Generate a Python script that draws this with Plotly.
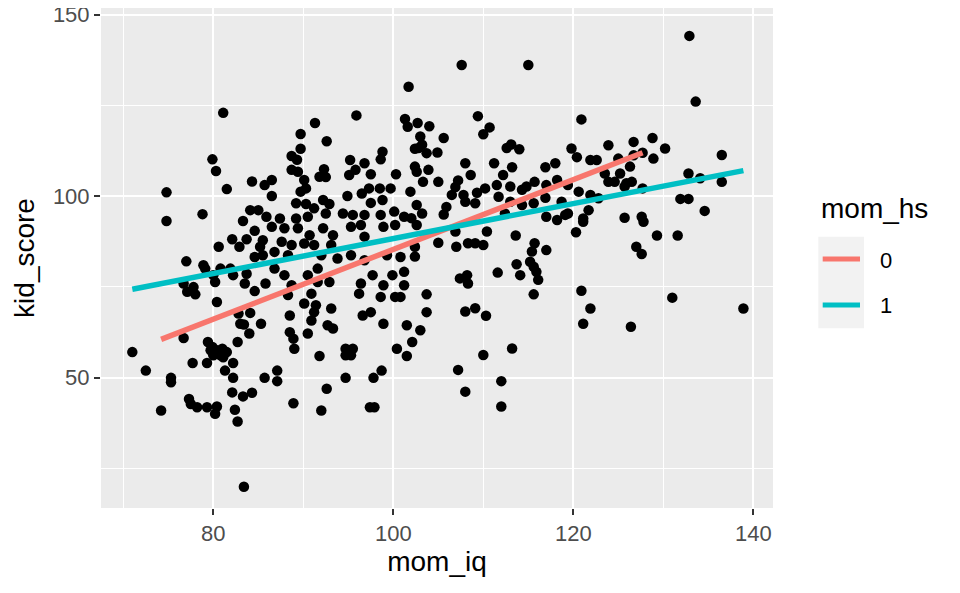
import plotly.graph_objects as go

# mom_iq, kid_score
mom_iq = [
79.9,80.3,74.8,74.8,78.8,81.5,84.3,85.7,86.5,84.1,85.0,83.3,85.9,84.6,82.1,83.7,82.9,80.6,85.5,85.2,
84.6,85.5,77.0,78.9,79.1,80.8,81.9,82.2,83.7,83.5,80.2,80.0,76.7,77.8,77.1,78.0,84.6,85.8,80.4,
82.8,84.1,83.0,83.4,85.3,84.0,76.7,82.7,79.4,71.0,79.9,80.4,81.0,81.5,80.0,80.8,81.1,79.7,
77.7,79.3,82.2,72.5,75.3,75.3,81.3,82.2,85.7,82.1,83.3,84.3,77.3,77.5,78.2,79.3,80.4,80.2,74.2,82.4,82.7,83.4,
81.1,
101.7,95.9,91.3,89.7,92.6,101.3,101.6,102.7,102.4,89.7,88.7,89.3,98.8,98.6,95.2,96.8,88.7,89.4,90.1,92.3,
91.8,92.5,95.1,95.8,97.5,100.3,86.5,89.7,90.3,94.9,96.5,97.3,98.5,99.7,101.9,89.2,90.3,92.2,92.9,97.5,98.8,
87.4,89.2,90.5,91.2,92.5,94.4,95.5,96.8,98.6,100.1,101.2,86.5,87.9,89.4,90.7,92.2,93.3,95.3,96.4,96.8,98.9,100.2,
87.6,88.7,90.1,91.2,93.1,86.8,88.3,92.0,93.8,95.3,96.8,99.3,100.8,86.8,91.6,87.9,97.7,99.9,101.2,90.5,
88.7,91.6,92.9,96.4,98.9,101.2,88.3,90.9,96.2,98.6,100.2,100.8,90.1,91.4,88.5,91.2,93.1,96.6,97.5,90.9,88.5,
92.7,93.3,98.9,101.5,90.5,
88.9,89.0,91.8,94.7,95.5,94.7,95.3,100.4,101.5,102.1,87.1,87.1,94.7,97.8,98.7,92.6,88.9,92.0,97.4,97.9,
107.6,115.0,109.4,110.7,110.0,104.0,105.6,103.0,103.2,102.8,103.7,104.9,112.6,113.1,114.0,111.2,113.2,112.2,
108.0,108.6,102.4,102.6,103.9,103.3,105.0,107.2,106.9,106.5,107.8,109.3,110.2,111.5,113.0,114.3,114.8,115.7,
116.9,118.0,117.0,118.2,111.7,
108.0,109.1,105.9,105.6,113.0,114.3,116.9,115.6,112.4,117.0,118.2,102.6,103.2,102.0,102.6,106.9,105.0,107.0,
108.3,109.1,110.0,110.4,113.6,115.7,115.4,117.0,102.4,102.4,113.7,114.1,115.2,115.6,115.9,116.1,111.6,107.4,
108.2,108.3,103.7,115.6,103.7,108.0,109.1,110.3,
103.0,113.2,110.0,107.2,112.0,108.0,112.0,
132.9,133.6,120.9,119.8,123.9,126.7,128.8,130.2,127.7,136.5,120.4,121.9,122.6,125.0,126.7,128.9,
126.3,123.5,125.2,123.9,124.6,125.9,126.5,125.7,127.7,119.4,120.6,121.9,122.8,132.8,134.1,136.5,131.9,132.8,
134.6,118.7,119.1,119.4,121.7,121.1,121.1,120.3,125.7,127.6,127.8,129.3,131.6,127.0,127.6,120.9,121.9,121.1,
126.4,131.0,138.9,
]
kid_score = [
110.1,106.9,101.0,93.1,95.0,101.9,104.0,103.0,100.0,96.1,96.1,93.1,94.3,90.4,88.1,88.1,86.0,86.0,87.8,86.0,
83.2,83.7,82.0,80.9,80.0,80.0,80.0,78.2,78.6,75.9,76.3,78.2,75.9,74.9,73.6,72.9,73.8,75.9,70.8,
67.6,67.8,64.8,64.6,64.8,62.1,60.9,59.8,59.8,57.0,58.4,57.5,57.9,57.0,56.1,56.1,55.6,57.5,
54.0,54.0,54.0,51.9,49.9,48.7,51.9,49.9,49.9,45.9,44.8,45.8,44.1,42.7,41.8,41.8,42.0,40.0,40.9,41.1,37.9,19.9,
122.9,
130.1,122.2,120.1,117.1,115.1,121.2,119.1,120.1,113.0,113.0,111.0,110.0,112.2,110.1,109.9,109.0,107.2,106.7,104.4,107.4,
105.3,105.2,105.8,107.2,106.0,106.0,104.4,101.2,102.1,100.0,100.7,102.1,102.1,102.1,101.2,98.0,97.8,98.9,97.8,98.1,98.9,
93.8,93.8,94.3,96.6,95.2,95.2,94.8,94.8,94.8,95.7,94.3,91.5,91.1,91.1,89.2,91.1,89.2,91.5,92.0,88.8,91.5,92.0,
87.4,86.5,86.9,86.5,86.5,84.6,83.7,83.7,82.8,83.7,82.3,83.7,83.2,80.0,80.0,78.2,78.2,78.2,79.1,78.2,
75.4,76.3,76.3,75.9,75.4,75.4,72.7,73.1,73.1,72.2,72.2,72.2,70.4,69.9,67.1,68.0,69.0,67.1,68.0,65.7,62.5,
64.4,63.5,64.8,64.4,62.1,
60.7,57.9,55.9,57.9,57.9,56.1,56.1,57.9,55.9,59.8,51.9,49.0,49.9,49.9,51.9,46.9,42.9,40.9,41.8,41.8,
136.1,136.1,122.0,118.9,117.0,119.2,116.0,116.4,114.1,113.2,111.8,112.0,113.2,114.2,112.9,109.0,107.9,105.8,
109.0,105.8,108.1,106.7,107.2,103.9,103.9,104.3,102.5,100.3,100.3,100.9,102.1,103.0,102.6,101.7,102.6,103.9,
107.9,109.0,103.0,104.4,99.8,
98.4,98.0,97.0,94.9,98.4,97.5,99.5,98.0,95.2,94.3,93.4,97.5,95.2,93.9,92.0,90.2,87.1,86.0,
87.0,87.0,86.5,90.2,89.1,87.0,84.7,85.1,86.0,83.3,81.2,78.2,81.9,80.5,79.1,76.9,78.9,77.3,
78.2,75.9,72.9,72.9,68.0,68.2,69.1,67.0,
63.0,58.0,56.2,52.1,49.0,46.1,42.0,
144.1,126.0,121.1,113.1,114.0,114.9,116.0,113.1,111.9,111.3,110.7,109.9,109.9,110.3,111.2,110.3,
108.1,106.2,106.2,103.9,103.9,103.5,103.9,102.6,102.1,103.0,101.2,100.3,99.4,106.2,104.9,103.9,99.2,99.2,
95.9,98.4,94.8,95.2,96.1,93.8,92.9,90.0,94.0,94.3,92.9,89.1,89.1,86.0,84.0,73.9,69.0,64.8,
64.0,72.0,69.0,
]

# fitted lines per mom_hs group (endpoints)
hs_groups = ["0", "1"]
fit_x = {"0": [74.2, 127.7], "1": [71.0, 138.9]}
fit_y = {"0": [60.5, 111.9], "1": [74.3, 107.0]}
fit_colors = {"0": "#F8766D", "1": "#00BFC4"}

x_ticks = [80, 100, 120, 140]
y_ticks = [50, 100, 150]
legend_title = "mom_hs"

FONT = "Liberation Sans, Arial, Helvetica, sans-serif"
W, H = 960, 593
OFF = 8  # page offset of the figure inside the browser window
ML, MR, MT, MB = 93, 195, 0, 93
PW, PH = W - ML - MR, H - MT - MB


def scr_to_paper(sx, sy):
    fx, fy = sx - OFF, sy - OFF
    return (fx - ML) / PW, (H - MB - fy) / PH


fig = go.Figure()
fig.add_trace(go.Scatter(
    x=mom_iq, y=kid_score, mode="markers",
    marker=dict(color="black", size=10.5, line=dict(width=0)),
    showlegend=False, hoverinfo="skip", cliponaxis=False))
for g in hs_groups:
    fig.add_trace(go.Scatter(
        x=fit_x[g], y=fit_y[g], mode="lines", name=g, showlegend=False,
        line=dict(color=fit_colors[g], width=5.5)))

axis_common = dict(
    showgrid=True, gridcolor="white", gridwidth=2,
    zeroline=False, showline=False, automargin=False,
    ticks="outside", ticklen=6, tickwidth=2, tickcolor="#333333",
    ticklabeloverflow="allow",
    tickfont=dict(size=22, color="#4D4D4D", family=FONT),
)
fig.update_layout(
    width=W, height=H,
    margin=dict(l=ML, r=MR, t=MT, b=MB, autoexpand=False),
    paper_bgcolor="white", plot_bgcolor="#EBEBEB",
    font=dict(family=FONT, color="black"),
    showlegend=False,
    xaxis=dict(range=[67.52, 142.19], tickvals=x_ticks, **axis_common,
               minor=dict(dtick=10, tick0=0, showgrid=True, gridcolor="white", gridwidth=1, ticks=""),
               title=dict(text="mom_iq", font=dict(size=28, color="black"), standoff=3)),
    yaxis=dict(range=[14.05, 151.79], tickvals=y_ticks, **axis_common,
               minor=dict(dtick=25, tick0=0, showgrid=True, gridcolor="white", gridwidth=1, ticks=""),
               title=dict(text="kid_score", font=dict(size=28, color="black"), standoff=10)),
)

# ggplot-style legend (key box, key lines, labels, title)
kx0, ky0 = scr_to_paper(818.3, 236.7)
kx1, ky1 = scr_to_paper(864.0, 328.3)
fig.add_shape(type="rect", xref="paper", yref="paper", x0=kx0, x1=kx1, y0=ky1, y1=ky0,
              fillcolor="#F2F2F2", line=dict(width=0))
for g, key_sy, lab_sy in zip(hs_groups, [259, 305], [260, 305]):
    lx0, ly = scr_to_paper(822.7, key_sy)
    lx1, _ = scr_to_paper(860.0, key_sy)
    fig.add_shape(type="line", xref="paper", yref="paper", x0=lx0, x1=lx1, y0=ly, y1=ly,
                  line=dict(color=fit_colors[g], width=5))
    tx, ty = scr_to_paper(878.0, lab_sy)
    fig.add_annotation(x=tx, y=ty, xref="paper", yref="paper", text=g, showarrow=False,
                       xanchor="left", yanchor="middle",
                       font=dict(size=22, color="black", family=FONT))
ttx, tty = scr_to_paper(819.0, 208.0)
fig.add_annotation(x=ttx, y=tty, xref="paper", yref="paper", text=legend_title, showarrow=False,
                   xanchor="left", yanchor="middle",
                   font=dict(size=28, color="black", family=FONT))

fig.write_html("out.html")
